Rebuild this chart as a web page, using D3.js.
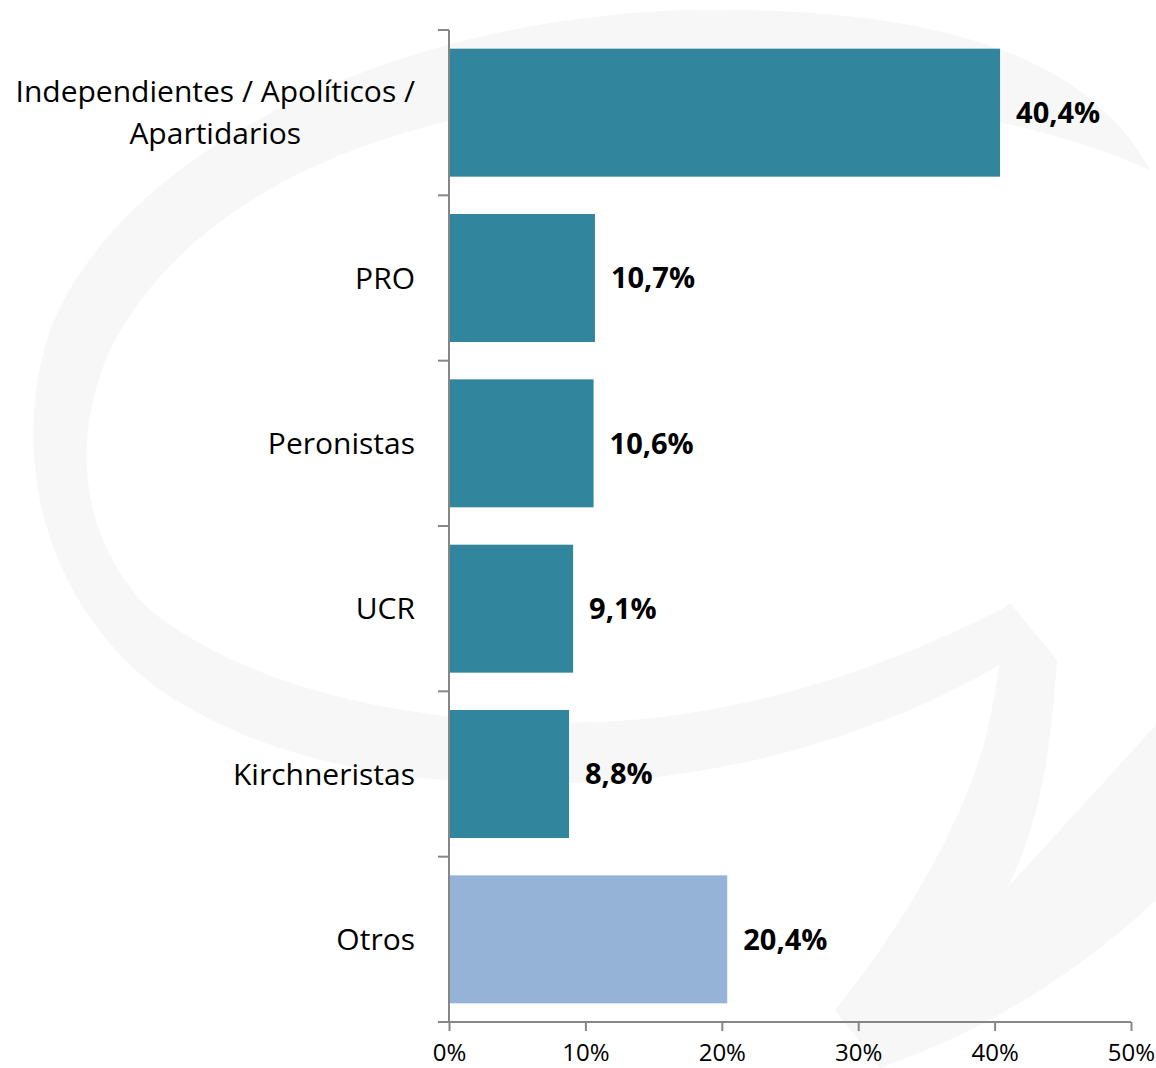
<!DOCTYPE html>
<html>
<head>
<meta charset="utf-8">
<script src="https://cdn.jsdelivr.net/npm/d3@7"></script>
<style>
  body { margin: 0; background: #fff; }
  svg { display: block; font-family: "Open Sans", sans-serif; }
</style>
</head>
<body>
<div id="vis"></div>
<script>
// chart data
const categories = ["Independientes / Apolíticos / Apartidarios", "PRO", "Peronistas", "UCR", "Kirchneristas", "Otros"];
const labelLines = [["Independientes / Apolíticos /", "Apartidarios"], ["PRO"], ["Peronistas"], ["UCR"], ["Kirchneristas"], ["Otros"]];
const values = [40.4, 10.7, 10.6, 9.1, 8.8, 20.4];
const xTicks = [0, 10, 20, 30, 40, 50];

const FRAME_WIDTH = 1156;
const FRAME_HEIGHT = 1068;
const MARGINS = {left: 449, right: 25, top: 30, bottom: 46};

const svg = d3.select("#vis")
  .append("svg")
    .attr("width", FRAME_WIDTH)
    .attr("height", FRAME_HEIGHT);

// faint logo in the background
const wm = svg.append("g").attr("fill", "#f7f7f7");
wm.append("path")
  .attr("fill-rule", "evenodd")
  .attr("d", "M1150,170 C1080,40 900,8 700,10 C400,14 120,150 50,330 C10,450 40,600 160,690 C280,770 430,790 600,782 C800,770 950,700 1040,640 " +
             "L1000,610 C900,660 760,715 600,722 C420,728 250,690 150,610 C80,540 70,440 110,350 C190,190 400,100 680,92 C900,88 1060,130 1150,170 Z");
wm.append("path")
  .attr("d", "M1010,603 L1057,660 C1050,760 1040,820 1008,887 L1156,725 L1156,900 C1060,990 960,1040 880,1068 L835,1010 C900,930 960,830 985,740 C995,700 1000,660 1004,635 L940,660 Z");

const X_SCALE = d3.scaleLinear()
  .domain([0, 50])
  .range([MARGINS.left, FRAME_WIDTH - MARGINS.right]);

const Y_SCALE = d3.scaleBand()
  .domain(categories)
  .range([MARGINS.top, FRAME_HEIGHT - MARGINS.bottom])
  .paddingInner(0.226)
  .paddingOuter(0.113);

// band edges, used for the tick marks on the category axis
const Y_EDGES = d3.scaleBand()
  .domain(categories)
  .range([MARGINS.top, FRAME_HEIGHT - MARGINS.bottom]);

const AXIS_COLOR = "#868686";
const yBottom = FRAME_HEIGHT - MARGINS.bottom;

// bars
svg.selectAll(".bar")
  .data(values)
  .enter()
  .append("rect")
    .attr("x", X_SCALE(0))
    .attr("y", (d, i) => Y_SCALE(categories[i]))
    .attr("width", (d) => X_SCALE(d) - X_SCALE(0))
    .attr("height", Y_SCALE.bandwidth())
    .attr("fill", (d, i) => i === categories.length - 1 ? "#95b3d7" : "#31859c");

// value labels
svg.selectAll(".val")
  .data(values)
  .enter()
  .append("text")
    .attr("x", (d) => X_SCALE(d) + 16)
    .attr("y", (d, i) => Y_SCALE(categories[i]) + Y_SCALE.bandwidth() / 2)
    .attr("dy", "0.36em")
    .attr("font-size", 29)
    .attr("font-weight", "bold")
    .attr("fill", "#000")
    .text((d) => d.toFixed(1).replace(".", ",") + "%");

// x axis
const xAxis = svg.append("g")
  .attr("transform", "translate(0," + yBottom + ")")
  .call(d3.axisBottom(X_SCALE).tickValues(xTicks).tickSize(9).tickSizeOuter(0)
    .tickFormat((d) => d + "%"));
xAxis.select(".domain").remove();
xAxis.selectAll("line").attr("stroke", AXIS_COLOR).attr("stroke-width", 2);
xAxis.selectAll("text")
  .attr("font-size", 24)
  .attr("font-family", "'Open Sans', sans-serif")
  .attr("fill", "#000")
  .attr("y", 0)
  .attr("dy", 0)
  .attr("transform", "translate(0,39)");

svg.append("line")
  .attr("x1", X_SCALE(0) - 11).attr("x2", X_SCALE(50))
  .attr("y1", yBottom).attr("y2", yBottom)
  .attr("stroke", AXIS_COLOR).attr("stroke-width", 2);

// y axis
svg.append("line")
  .attr("x1", X_SCALE(0)).attr("x2", X_SCALE(0))
  .attr("y1", MARGINS.top).attr("y2", yBottom)
  .attr("stroke", AXIS_COLOR).attr("stroke-width", 2);
svg.selectAll(".ytick")
  .data(categories)
  .enter()
  .append("line")
    .attr("x1", X_SCALE(0) - 11).attr("x2", X_SCALE(0))
    .attr("y1", (d) => Y_EDGES(d))
    .attr("y2", (d) => Y_EDGES(d))
    .attr("stroke", AXIS_COLOR).attr("stroke-width", 2);

// category labels (multi-line labels are centred on their longest line)
const LABEL_RIGHT = 415;
const LINE_H = 42;
categories.forEach((c, i) => {
  const lines = labelLines[i];
  const cy = Y_SCALE(c) + Y_SCALE.bandwidth() / 2;
  const t = svg.append("text")
    .attr("font-size", 30)
    .attr("fill", "#000");
  lines.forEach((ln, j) => {
    t.append("tspan")
      .attr("y", cy + (j - (lines.length - 1) / 2) * LINE_H)
      .attr("dy", "0.35em")
      .text(ln);
  });
  let maxW = 0;
  t.selectAll("tspan").each(function() { maxW = Math.max(maxW, this.getComputedTextLength()); });
  t.attr("text-anchor", "middle");
  t.selectAll("tspan").attr("x", LABEL_RIGHT - maxW / 2);
});
</script>
</body>
</html>
